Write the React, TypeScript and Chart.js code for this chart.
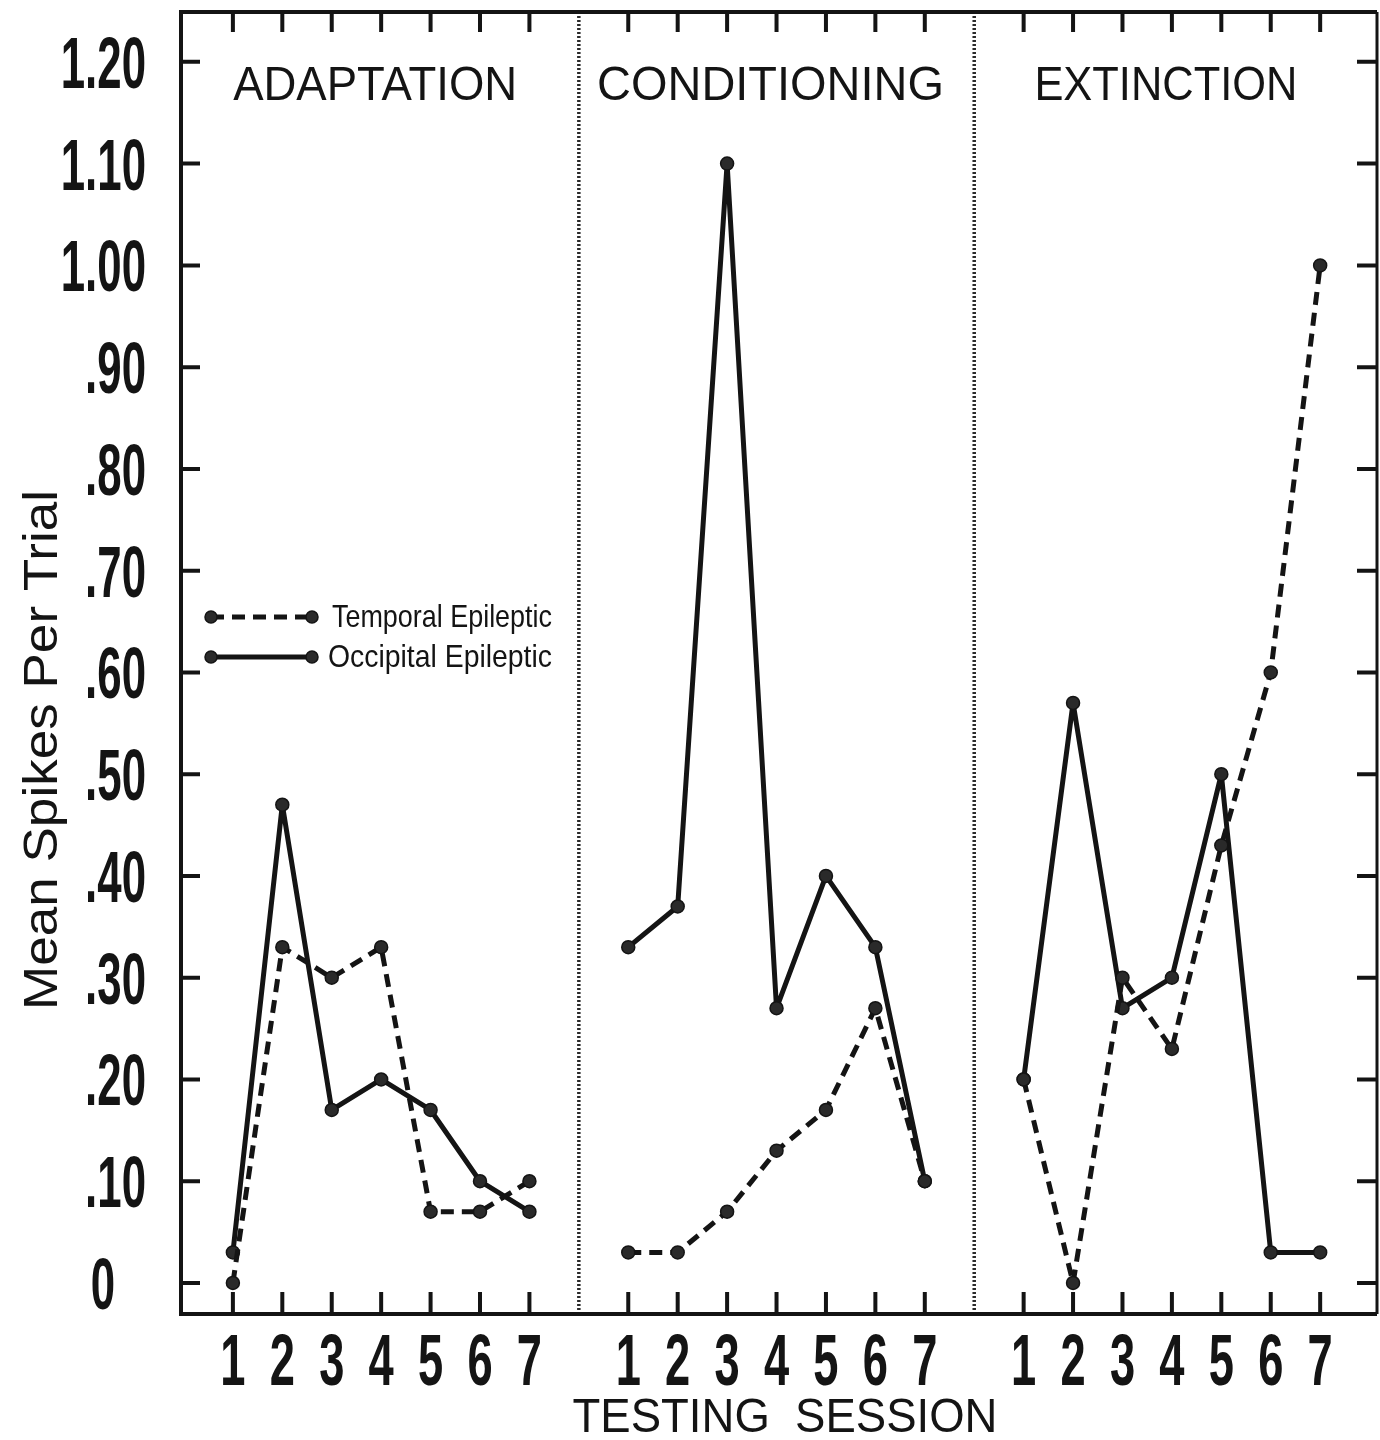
import React, { useEffect, useRef } from "react";
import { Chart, registerables } from "chart.js";

Chart.register(...registerables);

// Testing sessions within each phase
const sessions = [1, 2, 3, 4, 5, 6, 7];
const phases = ["ADAPTATION", "CONDITIONING", "EXTINCTION"];

// Mean spikes per trial, temporal epileptic group
const temporalAdaptation = [0, 0.33, 0.3, 0.33, 0.07, 0.07, 0.1];
const temporalConditioning = [0.03, 0.03, 0.07, 0.13, 0.17, 0.27, 0.1];
const temporalExtinction = [0.2, 0, 0.3, 0.23, 0.43, 0.6, 1.0];

// Mean spikes per trial, occipital epileptic group
const occipitalAdaptation = [0.03, 0.47, 0.17, 0.2, 0.17, 0.1, 0.07];
const occipitalConditioning = [0.33, 0.37, 1.1, 0.27, 0.4, 0.33, 0.1];
const occipitalExtinction = [0.2, 0.57, 0.27, 0.3, 0.5, 0.03, 0.03];

const yTickValues = [0, 0.1, 0.2, 0.3, 0.4, 0.5, 0.6, 0.7, 0.8, 0.9, 1.0, 1.1, 1.2];
const yTickLabels = ["0", ".10", ".20", ".30", ".40", ".50", ".60", ".70", ".80", ".90", "1.00", "1.10", "1.20"];
const seriesNames = ["Temporal Epileptic", "Occipital Epileptic"];
const xTitle = "TESTING  SESSION";
const yTitle = "Mean Spikes Per Trial";

const INK = "#141414";
const DASH = [13, 8];
const PHASE_STRIDE = 8; // seven sessions plus one empty slot for the divider

const xPos = (phase: number, session: number) => phase * PHASE_STRIDE + (session - 1);

function buildSeries(groups: number[][]) {
  const pts: { x: number; y: number | null }[] = [];
  groups.forEach((vals, p) => {
    vals.forEach((v, i) => pts.push({ x: xPos(p, sessions[i]), y: v }));
    if (p < groups.length - 1) pts.push({ x: xPos(p, 8), y: null });
  });
  return pts;
}

// Draw text squeezed horizontally by factor k
function drawSqueezed(
  ctx: CanvasRenderingContext2D,
  text: string,
  x: number,
  baseline: number,
  font: string,
  k: number,
  align: CanvasTextAlign
) {
  ctx.save();
  ctx.font = font;
  ctx.textAlign = align;
  ctx.textBaseline = "alphabetic";
  ctx.translate(x, baseline);
  ctx.scale(k, 1);
  ctx.fillText(text, 0, 0);
  ctx.restore();
}

// Draw text fitted to a given width
function drawFitted(
  ctx: CanvasRenderingContext2D,
  text: string,
  cx: number,
  baseline: number,
  font: string,
  width: number
) {
  ctx.save();
  ctx.font = font;
  const k = width / ctx.measureText(text).width;
  ctx.restore();
  drawSqueezed(ctx, text, cx, baseline, font, k, "center");
}

const frameAndLabels = {
  id: "frameAndLabels",
  beforeDatasetsDraw(chart: any) {
    const { ctx, chartArea: a, scales } = chart;
    const xs = scales.x;
    ctx.save();

    // phase dividers
    ctx.strokeStyle = "#2a2a2a";
    ctx.lineWidth = 3.5;
    ctx.setLineDash([2, 2]);
    for (let p = 0; p < phases.length - 1; p++) {
      const x = xs.getPixelForValue(xPos(p, 8));
      ctx.beginPath();
      ctx.moveTo(x, a.top);
      ctx.lineTo(x, a.bottom);
      ctx.stroke();
    }
    ctx.setLineDash([]);
    ctx.restore();
  },
  afterDraw(chart: any) {
    const { ctx, chartArea: a, scales } = chart;
    const xs = scales.x;
    const ys = scales.y;
    ctx.save();
    ctx.strokeStyle = INK;
    ctx.fillStyle = INK;
    ctx.lineCap = "butt";

    // frame
    ctx.lineWidth = 4;
    ctx.beginPath();
    ctx.moveTo(a.right, a.top);
    ctx.lineTo(a.left, a.top);
    ctx.lineTo(a.left, a.bottom);
    ctx.lineTo(a.right, a.bottom);
    ctx.stroke();
    ctx.lineWidth = 3;
    ctx.beginPath();
    ctx.moveTo(a.right, a.top);
    ctx.lineTo(a.right, a.bottom);
    ctx.stroke();

    // y ticks (inward, both sides) and labels
    ctx.lineWidth = 4;
    const digitFont = 'bold 73px "Liberation Sans", Arial, sans-serif';
    yTickValues.forEach((v, i) => {
      const y = ys.getPixelForValue(v);
      ctx.beginPath();
      ctx.moveTo(a.left, y);
      ctx.lineTo(a.left + 19, y);
      ctx.moveTo(a.right - 20, y);
      ctx.lineTo(a.right, y);
      ctx.stroke();
      const label = yTickLabels[i];
      if (label.length === 1) {
        drawSqueezed(ctx, label, a.left - 78, y + 26, digitFont, 0.6, "center");
      } else {
        drawSqueezed(ctx, label, a.left - 35, y + 26, digitFont, 0.6, "right");
      }
    });

    // x ticks (inward, top and bottom) and session labels
    phases.forEach((_, p) => {
      sessions.forEach((s) => {
        const x = xs.getPixelForValue(xPos(p, s));
        ctx.beginPath();
        ctx.moveTo(x, a.top);
        ctx.lineTo(x, a.top + 20);
        ctx.moveTo(x, a.bottom - 22);
        ctx.lineTo(x, a.bottom);
        ctx.stroke();
        drawSqueezed(ctx, String(s), x, a.bottom + 71, digitFont, 0.62, "center");
      });
    });

    // phase titles
    const titleFont = '49px "Liberation Sans", Arial, sans-serif';
    const titleWidths = [284, 347, 263];
    phases.forEach((name, p) => {
      const cx = (xs.getPixelForValue(xPos(p, 1)) + xs.getPixelForValue(xPos(p, 7))) / 2 - 6;
      drawFitted(ctx, name, cx, a.top + 88, titleFont, titleWidths[p]);
    });

    // axis titles
    drawFitted(ctx, xTitle, 785, a.bottom + 118, titleFont, 425);
    ctx.save();
    ctx.translate(57, 750);
    ctx.rotate(-Math.PI / 2);
    drawFitted(ctx, yTitle, 0, 0, titleFont, 520);
    ctx.restore();

    // legend
    const legendFont = '32px "Liberation Sans", Arial, sans-serif';
    const rows = [
      { y: 617, dash: DASH, tx: 332, tw: 220 },
      { y: 657, dash: [] as number[], tx: 328, tw: 224 },
    ];
    rows.forEach((r, i) => {
      const x0 = a.left + 30;
      const x1 = a.left + 131;
      ctx.strokeStyle = INK;
      ctx.lineWidth = 5;
      ctx.setLineDash(r.dash);
      ctx.beginPath();
      ctx.moveTo(x0, r.y);
      ctx.lineTo(x1, r.y);
      ctx.stroke();
      ctx.setLineDash([]);
      [x0, x1].forEach((x) => {
        ctx.beginPath();
        ctx.arc(x, r.y, 6, 0, Math.PI * 2);
        ctx.fillStyle = "#2a2a2a";
        ctx.fill();
        ctx.lineWidth = 1.5;
        ctx.stroke();
      });
      ctx.fillStyle = INK;
      ctx.save();
      ctx.font = legendFont;
      const k = r.tw / ctx.measureText(seriesNames[i]).width;
      ctx.restore();
      drawSqueezed(ctx, seriesNames[i], r.tx, r.y + 10, legendFont, k, "left");
    });

    ctx.restore();
  },
};

export default function App() {
  const canvasRef = useRef<HTMLCanvasElement | null>(null);

  useEffect(() => {
    if (!canvasRef.current) return;
    const pointStyle = {
      pointRadius: 6.5,
      pointBorderWidth: 1.5,
      pointBackgroundColor: "#2a2a2a",
      pointBorderColor: INK,
      borderColor: INK,
      borderWidth: 5,
      borderJoinStyle: "round" as const,
      tension: 0,
      spanGaps: false,
      clip: false as any,
    };
    const chart = new Chart(canvasRef.current, {
      type: "line",
      data: {
        datasets: [
          {
            label: seriesNames[0],
            data: buildSeries([temporalAdaptation, temporalConditioning, temporalExtinction]),
            borderDash: DASH,
            ...pointStyle,
          },
          {
            label: seriesNames[1],
            data: buildSeries([occipitalAdaptation, occipitalConditioning, occipitalExtinction]),
            ...pointStyle,
          },
        ],
      },
      options: {
        responsive: false,
        animation: false,
        layout: { autoPadding: false, padding: { left: 181, top: 12, right: 3, bottom: 126 } },
        plugins: { legend: { display: false }, tooltip: { enabled: false } },
        scales: {
          x: { type: "linear", min: -1.05, max: 23.15, display: false },
          y: { type: "linear", min: -0.0305, max: 1.249, display: false },
        },
      },
      plugins: [frameAndLabels],
    });
    return () => chart.destroy();
  }, []);

  return (
    <div style={{ position: "absolute", left: 0, top: 0, width: 1380, height: 1440, background: "#fff" }}>
      <canvas ref={canvasRef} width={1380} height={1440} style={{ display: "block" }} />
    </div>
  );
}
